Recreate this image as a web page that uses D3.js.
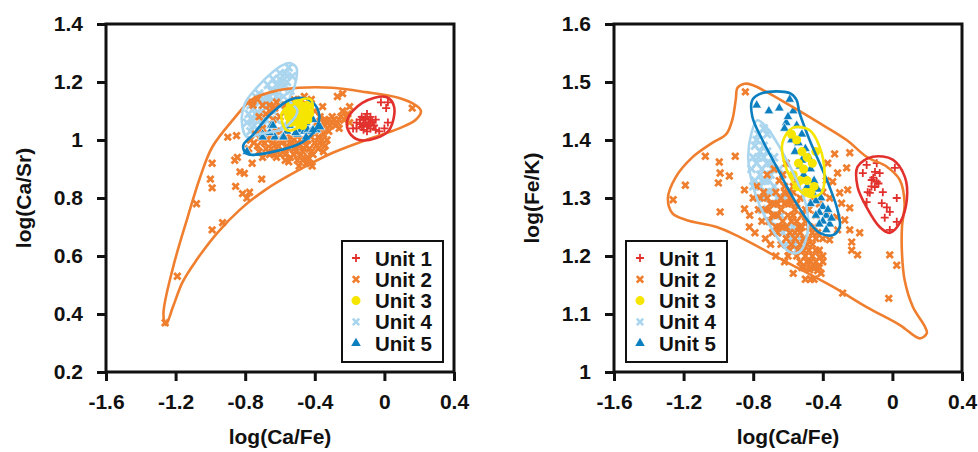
<!DOCTYPE html>
<html>
<head>
<meta charset="utf-8">
<script src="https://cdn.jsdelivr.net/npm/d3@7"></script>
<style>
    body { margin: 0; background: #fff; }
    svg { display: block; }
    text { font-family: "Liberation Sans", Arial, sans-serif; font-weight: bold; fill: #111; }
</style>
</head>
<body>
<svg id="chart" width="978" height="452"></svg>
<script>
'use strict';

// ---- data ----
var unitNames = ['Unit 1', 'Unit 2', 'Unit 3', 'Unit 4', 'Unit 5'];
var unitColors = ['#e2302d', '#ef7f2e', '#f6e500', '#a9d5ee', '#0b7fbf'];

var xTicks = [-1.6, -1.2, -0.8, -0.4, 0, 0.4];
var xTickLabels = ['-1.6', '-1.2', '-0.8', '-0.4', '0', '0.4'];
var srTicks = [0.2, 0.4, 0.6, 0.8, 1.0, 1.2, 1.4];
var srTickLabels = ['0.2', '0.4', '0.6', '0.8', '1', '1.2', '1.4'];
var fkTicks = [1.0, 1.1, 1.2, 1.3, 1.4, 1.5, 1.6];
var fkTickLabels = ['1', '1.1', '1.2', '1.3', '1.4', '1.5', '1.6'];

// left panel: log(Ca/Fe) vs log(Ca/Sr)
var sr1 = [[0.02, 1.13], [0.01, 1.11], [-0.02, 1.13], [0.02, 1.06], [0.0, 1.04], [-0.03, 1.03], [-0.05, 1.07],
    [-0.16, 1.06], [-0.13, 1.08], [-0.10, 1.09], [-0.09, 1.07], [-0.13, 1.045], [-0.10, 1.05], [-0.12, 1.035],
    [-0.08, 1.04], [-0.16, 1.04], [-0.14, 1.07], [-0.08, 1.08], [-0.06, 1.05], [-0.18, 1.04], [-0.11, 1.06],
    [-0.09, 1.05], [-0.12, 1.07], [-0.07, 1.065], [-0.10, 1.03], [-0.05, 1.035], [-0.14, 1.055], [-0.11, 1.075],
    [-0.08, 1.06], [-0.12, 1.05]];
var sr2 = [[-0.99, 0.92], [-1.0, 0.865], [-0.99, 0.835], [-1.08, 0.78], [-0.99, 0.69], [-0.93, 0.715], [-1.19, 0.53],
    [-1.26, 0.37], [-0.855, 0.84], [-0.815, 0.815], [-0.79, 0.80], [-0.775, 0.82], [-0.83, 0.89], [-0.805, 0.885],
    [-0.705, 0.865], [-0.86, 0.93], [-0.845, 0.94], [-0.76, 0.92], [-0.70, 0.94], [-0.64, 0.955], [-0.90, 1.01],
    [-0.85, 1.015], [-0.755, 1.12], [-0.73, 1.14], [-0.24, 1.16], [-0.27, 1.15], [-0.415, 0.91], [0.16, 1.11],
    [-0.355, 1.115], [-0.2, 1.115],
    [-0.78, 0.97], [-0.75, 0.99], [-0.72, 0.96], [-0.70, 1.0], [-0.68, 0.97], [-0.66, 0.95], [-0.64, 0.99],
    [-0.62, 0.97], [-0.60, 1.0], [-0.58, 0.96], [-0.56, 0.98], [-0.54, 0.94], [-0.52, 0.97], [-0.50, 0.99],
    [-0.48, 0.95], [-0.46, 0.97], [-0.44, 0.94], [-0.42, 0.96], [-0.40, 0.99], [-0.38, 0.97], [-0.36, 1.0],
    [-0.35, 0.96], [-0.50, 0.93], [-0.45, 0.92], [-0.55, 0.925], [-0.42, 1.01], [-0.60, 0.95], [-0.66, 1.02],
    [-0.70, 1.04], [-0.74, 1.02], [-0.62, 1.03], [-0.58, 1.02], [-0.54, 1.01], [-0.50, 1.02], [-0.46, 1.0],
    [-0.40, 1.03], [-0.36, 1.04], [-0.33, 1.06], [-0.31, 1.05], [-0.29, 1.07], [-0.27, 1.06], [-0.25, 1.08],
    [-0.23, 1.07], [-0.21, 1.09], [-0.30, 1.08], [-0.34, 1.07], [-0.26, 1.04], [-0.32, 1.03], [-0.20, 1.06],
    [-0.24, 1.10], [-0.37, 1.08], [-0.39, 1.06], [-0.76, 1.13], [-0.70, 1.12], [-0.66, 1.10], [-0.63, 1.11],
    [-0.60, 1.08], [-0.64, 1.07], [-0.68, 1.09], [-0.72, 1.08], [-0.57, 1.12], [-0.52, 1.14], [-0.44, 1.12],
    [-0.40, 1.10],
    [-0.77, 1.0], [-0.73, 0.98], [-0.71, 1.01], [-0.69, 0.99], [-0.67, 1.0], [-0.65, 0.97], [-0.63, 0.95],
    [-0.61, 0.98], [-0.59, 0.99], [-0.57, 0.95], [-0.55, 0.97], [-0.53, 0.99], [-0.51, 0.96], [-0.49, 0.98],
    [-0.47, 0.96], [-0.45, 0.98], [-0.43, 0.97], [-0.41, 0.95], [-0.39, 0.98], [-0.37, 0.99], [-0.35, 1.02],
    [-0.38, 1.01], [-0.34, 0.98], [-0.33, 1.0], [-0.47, 0.93], [-0.52, 0.95], [-0.57, 0.93], [-0.62, 0.94],
    [-0.43, 0.92], [-0.49, 0.91], [-0.56, 1.0], [-0.52, 1.0], [-0.48, 1.0], [-0.44, 1.0], [-0.64, 1.01],
    [-0.68, 1.02], [-0.35, 1.06], [-0.30, 1.06], [-0.28, 1.05], [-0.26, 1.07], [-0.22, 1.08], [-0.32, 1.07],
    [-0.34, 1.05], [-0.62, 1.13], [-0.66, 1.12], [-0.48, 1.14], [-0.46, 1.15], [-0.42, 1.14]];
var sr3 = [[-0.56, 1.10], [-0.54, 1.12], [-0.52, 1.11], [-0.50, 1.13], [-0.48, 1.12], [-0.46, 1.11], [-0.44, 1.12],
    [-0.55, 1.08], [-0.53, 1.09], [-0.51, 1.08], [-0.49, 1.10], [-0.47, 1.09], [-0.45, 1.10], [-0.43, 1.09],
    [-0.54, 1.06], [-0.52, 1.065], [-0.50, 1.06], [-0.48, 1.07], [-0.46, 1.075], [-0.44, 1.07], [-0.47, 1.05]];
var sr4 = [[-0.55, 1.25], [-0.57, 1.23], [-0.53, 1.22], [-0.60, 1.21], [-0.56, 1.2], [-0.62, 1.19], [-0.58, 1.18],
    [-0.54, 1.17], [-0.65, 1.17], [-0.68, 1.15], [-0.62, 1.15], [-0.58, 1.15], [-0.72, 1.13], [-0.66, 1.13],
    [-0.60, 1.12], [-0.75, 1.11], [-0.70, 1.10], [-0.64, 1.10], [-0.78, 1.09], [-0.73, 1.08], [-0.68, 1.07],
    [-0.62, 1.07], [-0.79, 1.06], [-0.75, 1.05], [-0.70, 1.05], [-0.65, 1.04], [-0.77, 1.03], [-0.72, 1.03],
    [-0.56, 1.10], [-0.52, 1.12], [-0.50, 1.09], [-0.54, 1.06], [-0.58, 1.05], [-0.60, 1.03], [-0.66, 1.01],
    [-0.70, 1.12], [-0.74, 1.15], [-0.67, 1.19], [-0.64, 1.21], [-0.60, 1.23], [-0.76, 1.07], [-0.74, 1.09],
    [-0.71, 1.07], [-0.69, 1.13], [-0.66, 1.15], [-0.63, 1.17], [-0.59, 1.20], [-0.56, 1.22], [-0.61, 1.14],
    [-0.77, 1.12], [-0.72, 1.16]];
var sr5 = [[-0.79, 0.96], [-0.70, 1.02], [-0.65, 1.05], [-0.63, 1.01], [-0.585, 1.01], [-0.56, 1.03], [-0.545, 1.05],
    [-0.50, 1.02], [-0.48, 1.035], [-0.46, 1.03], [-0.44, 1.035], [-0.42, 1.03], [-0.39, 1.035], [-0.45, 1.06],
    [-0.51, 1.06], [-0.41, 1.07], [-0.44, 1.095], [-0.70, 1.01], [-0.66, 1.025], [-0.64, 1.05], [-0.58, 1.01],
    [-0.51, 1.025], [-0.45, 1.01], [-0.37, 1.045], [-0.41, 1.035]];

var srHull1 = [[-0.213, 1.069], [-0.127, 1.128], [0.01, 1.148], [0.056, 1.114], [0.027, 1.034], [-0.047, 1.007],
    [-0.144, 1.0], [-0.2, 1.024]];
var srHull2 = [[-1.256, 0.362], [-1.27, 0.40], [-1.215, 0.56], [-1.13, 0.735], [-1.06, 0.87], [-0.99, 0.975],
    [-0.87, 1.07], [-0.76, 1.14], [-0.62, 1.17], [-0.49, 1.18], [-0.30, 1.18], [-0.105, 1.165], [0.085, 1.145],
    [0.18, 1.12], [0.21, 1.10], [0.18, 1.07], [0.085, 1.04], [-0.105, 1.0], [-0.30, 0.955], [-0.49, 0.897],
    [-0.68, 0.83], [-0.83, 0.76], [-0.96, 0.68], [-1.08, 0.586], [-1.16, 0.51], [-1.215, 0.425]];
var srHull3 = [[-0.42, 1.138], [-0.46, 1.142], [-0.53, 1.12], [-0.59, 1.093], [-0.563, 1.034], [-0.488, 1.045],
    [-0.42, 1.086]];
var srHull4 = [[-0.546, 1.265], [-0.505, 1.248], [-0.517, 1.183], [-0.546, 1.138], [-0.50, 1.10], [-0.58, 1.04],
    [-0.72, 1.02], [-0.79, 1.01], [-0.82, 1.07], [-0.80, 1.128], [-0.735, 1.18], [-0.64, 1.235], [-0.585, 1.258]];
var srHull5 = [[-0.803, 0.959], [-0.78, 0.95], [-0.643, 0.959], [-0.471, 0.993], [-0.391, 1.041], [-0.374, 1.086],
    [-0.414, 1.131], [-0.471, 1.145], [-0.546, 1.138], [-0.66, 1.086], [-0.757, 1.017], [-0.81, 0.983]];

// right panel: log(Ca/Fe) vs log(Fe/K)
var fk1 = [[-0.09, 1.36], [-0.148, 1.357], [-0.17, 1.343], [-0.119, 1.331], [-0.09, 1.328], [-0.073, 1.343],
    [-0.101, 1.319], [-0.142, 1.31], [-0.055, 1.31], [-0.148, 1.293], [-0.061, 1.291], [0.014, 1.352],
    [0.025, 1.30], [-0.032, 1.284], [-0.015, 1.276], [-0.044, 1.266], [0.025, 1.259], [-0.015, 1.245],
    [-0.13, 1.309], [-0.11, 1.335], [-0.08, 1.325], [-0.12, 1.32], [-0.10, 1.345]];
var fk2 = [[-0.845, 1.483], [-1.075, 1.372], [-0.995, 1.362], [-0.99, 1.343], [-1.0, 1.326], [-0.937, 1.338],
    [-0.903, 1.372], [-1.19, 1.322], [-1.26, 1.297], [-0.99, 1.276], [-0.822, 1.25], [-0.85, 1.281], [-0.85, 1.314],
    [-0.332, 1.376], [-0.245, 1.378], [-0.263, 1.352], [-0.372, 1.36], [-0.315, 1.343], [-0.257, 1.314],
    [-0.245, 1.283], [-0.274, 1.262], [-0.245, 1.245], [-0.188, 1.24], [-0.234, 1.224], [-0.234, 1.21],
    [-0.2, 1.202], [-0.015, 1.202], [0.025, 1.184], [-0.021, 1.127], [-0.286, 1.136], [-0.343, 1.328],
    [-0.303, 1.309], [-0.292, 1.291], [-0.32, 1.267], [-0.315, 1.245], [-0.361, 1.228], [-0.418, 1.198],
    [-0.436, 1.181], [-0.476, 1.176],
    [-0.78, 1.32], [-0.76, 1.30], [-0.74, 1.31], [-0.77, 1.28], [-0.73, 1.28], [-0.70, 1.29], [-0.75, 1.26],
    [-0.71, 1.26], [-0.68, 1.27], [-0.66, 1.29], [-0.64, 1.30], [-0.62, 1.32], [-0.60, 1.31], [-0.63, 1.34],
    [-0.61, 1.36], [-0.65, 1.33], [-0.67, 1.31], [-0.69, 1.24], [-0.66, 1.24], [-0.63, 1.25], [-0.60, 1.27],
    [-0.58, 1.29], [-0.56, 1.28], [-0.58, 1.26], [-0.61, 1.23], [-0.64, 1.22], [-0.59, 1.21], [-0.56, 1.23],
    [-0.54, 1.25], [-0.52, 1.27], [-0.50, 1.26], [-0.53, 1.22], [-0.55, 1.20], [-0.51, 1.21], [-0.48, 1.23],
    [-0.46, 1.22], [-0.49, 1.19], [-0.52, 1.18], [-0.47, 1.18], [-0.44, 1.19], [-0.42, 1.21], [-0.45, 1.25],
    [-0.43, 1.24], [-0.40, 1.23], [-0.48, 1.28], [-0.46, 1.30], [-0.44, 1.27], [-0.42, 1.29], [-0.40, 1.31],
    [-0.38, 1.33], [-0.36, 1.30], [-0.38, 1.27], [-0.57, 1.31], [-0.55, 1.33], [-0.53, 1.30], [-0.68, 1.35],
    [-0.72, 1.34], [-0.70, 1.22], [-0.67, 1.20], [-0.62, 1.19], [-0.57, 1.17], [-0.50, 1.16], [-0.45, 1.16],
    [-0.43, 1.175], [-0.40, 1.20], [-0.80, 1.30], [-0.82, 1.27], [-0.79, 1.24], [-0.73, 1.23],
    [-0.72, 1.30], [-0.68, 1.29], [-0.66, 1.27], [-0.64, 1.28], [-0.62, 1.29], [-0.60, 1.29], [-0.63, 1.26],
    [-0.61, 1.25], [-0.59, 1.24], [-0.57, 1.27], [-0.55, 1.26], [-0.53, 1.24], [-0.51, 1.23], [-0.49, 1.22],
    [-0.50, 1.20], [-0.48, 1.21], [-0.46, 1.20], [-0.44, 1.21], [-0.47, 1.19], [-0.45, 1.18], [-0.53, 1.19],
    [-0.51, 1.18], [-0.54, 1.21], [-0.56, 1.24], [-0.58, 1.22], [-0.60, 1.20], [-0.65, 1.25], [-0.67, 1.25],
    [-0.69, 1.27], [-0.71, 1.28], [-0.62, 1.31], [-0.59, 1.30], [-0.57, 1.32], [-0.55, 1.29], [-0.52, 1.25],
    [-0.50, 1.28], [-0.48, 1.25], [-0.46, 1.24], [-0.44, 1.23], [-0.42, 1.18], [-0.40, 1.19], [-0.41, 1.17],
    [-0.47, 1.16]];
var fk3 = [[-0.58, 1.41], [-0.55, 1.40], [-0.52, 1.38], [-0.49, 1.37], [-0.54, 1.36], [-0.51, 1.35], [-0.46, 1.36],
    [-0.57, 1.34], [-0.53, 1.33], [-0.49, 1.33], [-0.45, 1.32], [-0.55, 1.32], [-0.50, 1.31], [-0.47, 1.31],
    [-0.44, 1.38]];
var fk4 = [[-0.78, 1.40], [-0.76, 1.38], [-0.74, 1.39], [-0.78, 1.36], [-0.75, 1.35], [-0.72, 1.36], [-0.79, 1.33],
    [-0.76, 1.32], [-0.73, 1.33], [-0.70, 1.34], [-0.77, 1.30], [-0.74, 1.30], [-0.71, 1.31], [-0.68, 1.32],
    [-0.75, 1.28], [-0.72, 1.28], [-0.69, 1.29], [-0.66, 1.30], [-0.70, 1.26], [-0.67, 1.27], [-0.64, 1.27],
    [-0.66, 1.25], [-0.63, 1.24], [-0.60, 1.25], [-0.61, 1.22], [-0.58, 1.23], [-0.56, 1.22], [-0.59, 1.24],
    [-0.57, 1.25], [-0.72, 1.41], [-0.68, 1.37], [-0.65, 1.35], [-0.80, 1.37], [-0.62, 1.30], [-0.55, 1.21],
    [-0.53, 1.23], [-0.77, 1.37], [-0.75, 1.33], [-0.73, 1.31], [-0.71, 1.33], [-0.69, 1.31], [-0.74, 1.37],
    [-0.70, 1.36], [-0.76, 1.34], [-0.79, 1.39], [-0.77, 1.41], [-0.74, 1.42], [-0.72, 1.38], [-0.69, 1.35],
    [-0.81, 1.35], [-0.80, 1.32]];
var fk5 = [[-0.78, 1.46], [-0.71, 1.45], [-0.65, 1.455], [-0.59, 1.47], [-0.57, 1.45], [-0.61, 1.43], [-0.55, 1.425],
    [-0.52, 1.41], [-0.54, 1.395], [-0.50, 1.385], [-0.48, 1.37], [-0.52, 1.365], [-0.47, 1.35], [-0.51, 1.34],
    [-0.45, 1.33], [-0.43, 1.315], [-0.41, 1.30], [-0.40, 1.285], [-0.44, 1.295], [-0.42, 1.275], [-0.38, 1.27],
    [-0.40, 1.26], [-0.36, 1.255], [-0.38, 1.245], [-0.42, 1.255], [-0.58, 1.40], [-0.56, 1.38], [-0.53, 1.355],
    [-0.49, 1.32], [-0.46, 1.31], [-0.62, 1.42], [-0.60, 1.44], [-0.44, 1.27], [-0.37, 1.28], [-0.35, 1.265],
    [-0.47, 1.29]];

var fkHull1 = [[-0.20, 1.354], [-0.113, 1.371], [0.002, 1.366], [0.072, 1.336], [0.083, 1.297], [0.043, 1.257],
    [-0.015, 1.24], [-0.073, 1.25], [-0.148, 1.284], [-0.2, 1.319]];
var fkHull2 = [[-0.85, 1.497], [-0.89, 1.49], [-0.90, 1.47], [-0.92, 1.435], [-0.955, 1.41], [-1.035, 1.395],
    [-1.15, 1.37], [-1.245, 1.336], [-1.29, 1.30], [-1.265, 1.274], [-1.185, 1.262], [-1.01, 1.25], [-0.88, 1.233],
    [-0.63, 1.193], [-0.343, 1.147], [-0.148, 1.112], [0.043, 1.081], [0.158, 1.058], [0.198, 1.067],
    [0.187, 1.078], [0.118, 1.112], [0.07, 1.159], [0.055, 1.205], [0.055, 1.25], [0.07, 1.291], [0.043, 1.331],
    [-0.032, 1.354], [-0.148, 1.371], [-0.263, 1.40], [-0.418, 1.429], [-0.574, 1.457], [-0.724, 1.483],
    [-0.805, 1.495]];
var fkHull3 = [[-0.574, 1.421], [-0.476, 1.417], [-0.418, 1.388], [-0.39, 1.343], [-0.407, 1.309], [-0.476, 1.302],
    [-0.551, 1.319], [-0.62, 1.36], [-0.632, 1.395]];
var fkHull4 = [[-0.776, 1.434], [-0.724, 1.422], [-0.649, 1.388], [-0.551, 1.331], [-0.493, 1.284], [-0.488, 1.24],
    [-0.534, 1.207], [-0.591, 1.207], [-0.689, 1.245], [-0.782, 1.302], [-0.828, 1.366], [-0.81, 1.412]];
var fkHull5 = [[-0.805, 1.469], [-0.747, 1.481], [-0.591, 1.481], [-0.551, 1.469], [-0.534, 1.447], [-0.476, 1.40],
    [-0.418, 1.36], [-0.361, 1.319], [-0.315, 1.279], [-0.303, 1.25], [-0.343, 1.236], [-0.418, 1.24],
    [-0.476, 1.257], [-0.574, 1.302], [-0.666, 1.354], [-0.747, 1.40], [-0.805, 1.44]];

// ---- drawing ----
var svg = d3.select('#chart');

function markerPath(unit) {
    if (unit === 0) {
        return 'M-4,0H4M0,-4V4';
    }
    if (unit === 1) {
        return 'M-3.2,-3.2L3.2,3.2M-3.2,3.2L3.2,-3.2';
    }
    if (unit === 3) {
        return 'M-3.8,-3.8L3.8,3.8M-3.8,3.8L3.8,-3.8';
    }
    if (unit === 2) {
        return d3.symbol(d3.symbolCircle, 64)();
    }
    return d3.symbol(d3.symbolTriangle, 40)();
}

function drawMarks(g, pts, unit, x, y) {
    var color = unitColors[unit];
    var sel = g.append('g').selectAll('path')
        .data(pts)
        .enter()
        .append('path')
        .attr('transform', function (d) {
            return 'translate(' + x(d[0]) + ',' + y(d[1]) + ')';
        })
        .attr('d', markerPath(unit));

    if (unit === 2) {
        sel.attr('fill', color).attr('stroke', 'none');
    } else if (unit === 4) {
        sel.attr('fill', color).attr('stroke', '#fff').attr('stroke-width', 0.6);
    } else {
        sel.attr('fill', 'none').attr('stroke', color).attr('stroke-width', unit === 0 ? 1.8 : 2.8);
    }
}

function drawPanel(cfg) {
    var x = d3.scaleLinear().domain([-1.6, 0.4]).range([cfg.left, cfg.left + 348]);
    var y = d3.scaleLinear().domain(cfg.yDomain).range([372, 24]);
    var g = svg.append('g');
    var hull = d3.line()
        .x(function (d) { return x(d[0]); })
        .y(function (d) { return y(d[1]); })
        .curve(d3.curveCatmullRomClosed.alpha(0.5));
    var order = [3, 1, 4, 2, 0];
    var i;

    for (i = 0; i < order.length; i++) {
        drawMarks(g, cfg.points[order[i]], order[i], x, y);
    }

    [1, 3, 4, 2, 0].forEach(function (u) {
        g.append('path')
            .attr('d', hull(cfg.hulls[u]))
            .attr('fill', 'none')
            .attr('stroke', unitColors[u])
            .attr('stroke-width', 2.6);
    });

    // frame
    g.append('rect')
        .attr('x', cfg.left)
        .attr('y', 24)
        .attr('width', 348)
        .attr('height', 348)
        .attr('fill', 'none')
        .attr('stroke', '#111')
        .attr('stroke-width', 3);

    var xAxis = g.append('g')
        .attr('transform', 'translate(0,372)')
        .call(d3.axisBottom(x).tickValues(xTicks).tickSize(9).tickPadding(13)
            .tickFormat(function (d, i) { return xTickLabels[i]; }));
    var yAxis = g.append('g')
        .attr('transform', 'translate(' + cfg.left + ',0)')
        .call(d3.axisLeft(y).tickValues(cfg.yTicks).tickSize(9).tickPadding(14)
            .tickFormat(function (d, i) { return cfg.yLabels[i]; }));

    [xAxis, yAxis].forEach(function (a) {
        a.select('.domain').remove();
        a.selectAll('line').attr('stroke', '#111').attr('stroke-width', 3);
        a.selectAll('text').attr('fill', '#111').style('font-size', '21px').style('font-family', null);
    });

    g.append('text')
        .attr('x', cfg.left + 174)
        .attr('y', 444)
        .attr('text-anchor', 'middle')
        .style('font-size', '21px')
        .text('log(Ca/Fe)');

    g.append('text')
        .attr('transform', 'translate(' + cfg.titleX + ',198) rotate(-90)')
        .attr('text-anchor', 'middle')
        .style('font-size', '21px')
        .text(cfg.yTitle);

    // legend
    var lg = g.append('g').attr('transform', 'translate(' + cfg.legendX + ',241)');
    lg.append('rect')
        .attr('width', 101)
        .attr('height', 121)
        .attr('fill', '#fff')
        .attr('stroke', '#111')
        .attr('stroke-width', 2);

    unitNames.forEach(function (name, u) {
        var row = lg.append('g').attr('transform', 'translate(0,' + (17 + u * 21.3) + ')');
        var m = row.append('path')
            .attr('transform', 'translate(14,0)')
            .attr('d', u === 4 ? d3.symbol(d3.symbolTriangle, 40)() : (u === 3 ? markerPath(1) : markerPath(u)));

        if (u === 2 || u === 4) {
            m.attr('fill', unitColors[u]);
        } else {
            m.attr('fill', 'none').attr('stroke', unitColors[u]).attr('stroke-width', u === 0 ? 1.8 : 2.6);
        }
        row.append('text')
            .attr('x', 33)
            .attr('y', 7.5)
            .style('font-size', '20.5px')
            .text(name);
    });
}

drawPanel({
    left: 106,
    yDomain: [0.2, 1.4],
    yTicks: srTicks,
    yLabels: srTickLabels,
    yTitle: 'log(Ca/Sr)',
    titleX: 31,
    legendX: 342,
    points: [sr1, sr2, sr3, sr4, sr5],
    hulls: [srHull1, srHull2, srHull3, srHull4, srHull5]
});

drawPanel({
    left: 614,
    yDomain: [1.0, 1.6],
    yTicks: fkTicks,
    yLabels: fkTickLabels,
    yTitle: 'log(Fe/K)',
    titleX: 539,
    legendX: 626,
    points: [fk1, fk2, fk3, fk4, fk5],
    hulls: [fkHull1, fkHull2, fkHull3, fkHull4, fkHull5]
});
</script>
</body>
</html>
